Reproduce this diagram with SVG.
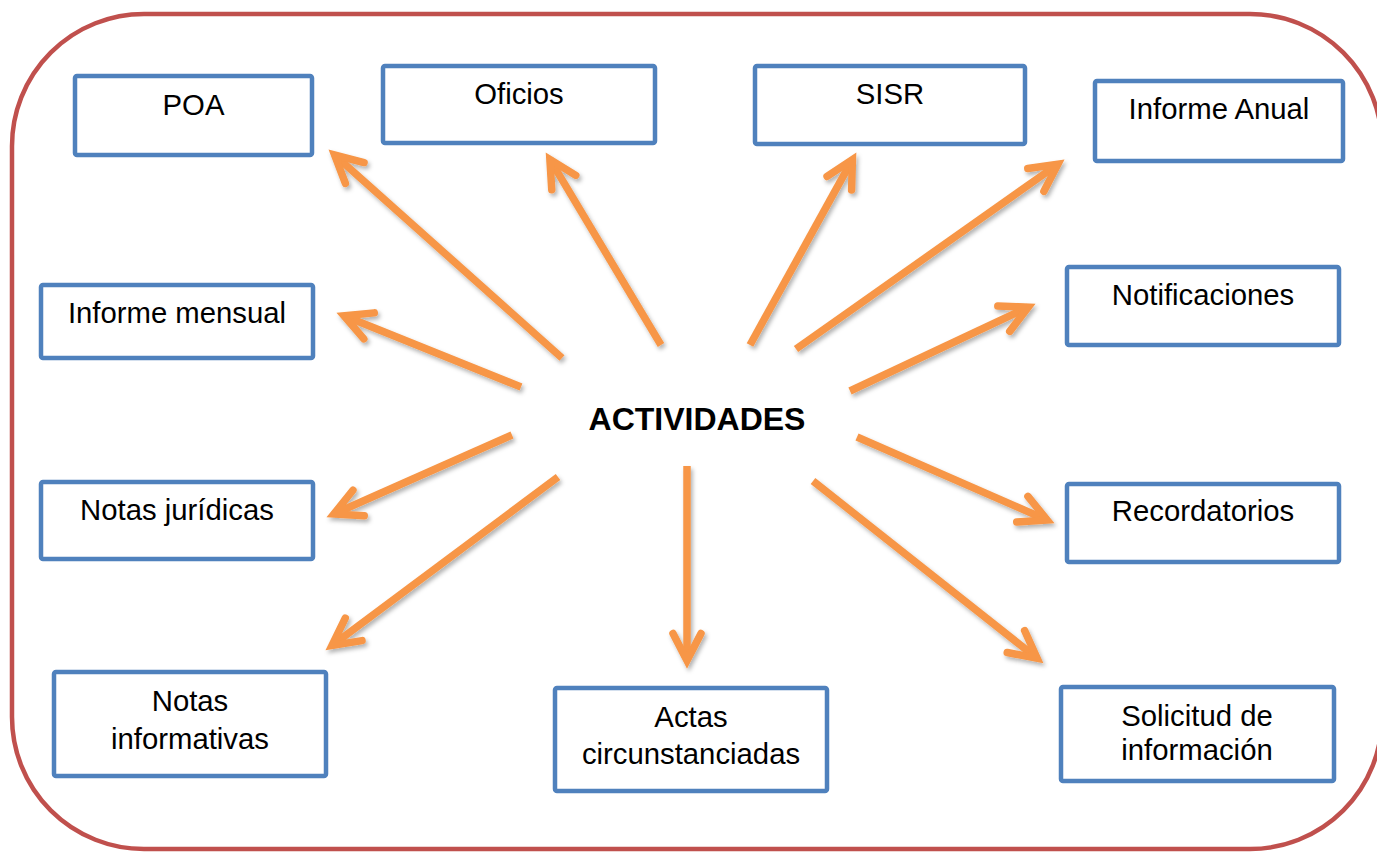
<svg xmlns="http://www.w3.org/2000/svg" width="1377" height="852" viewBox="0 0 1377 852">
  <style>
    .frame { fill: #FFFFFF; stroke: #C0504D; stroke-width: 4.5; }
    .box { fill: #FFFFFF; stroke: #4F81BD; stroke-width: 4.5; }
    .lbl { font-family: "Liberation Sans", Arial, sans-serif; font-size: 29.3px; fill: #000000; text-anchor: middle; }
    .title { font-family: "Liberation Sans", Arial, sans-serif; font-size: 32px; font-weight: bold; fill: #000000; text-anchor: middle; }
    .arrow { fill: none; stroke: #F79646; stroke-width: 7.5; stroke-linecap: butt; marker-end: url(#head); }
  </style>
  <defs>
    <filter id="shadow" x="-10%" y="-10%" width="120%" height="120%">
      <feDropShadow dx="2" dy="3" stdDeviation="2" flood-color="#000000" flood-opacity="0.3"/>
    </filter>
    <marker id="head" markerUnits="userSpaceOnUse" viewBox="-40 -25 50 50" refX="0" refY="0" markerWidth="50" markerHeight="50" orient="auto" overflow="visible">
      <path d="M -27 -14 L 0 0 L -27 14" fill="none" stroke="#F79646" stroke-width="7.5" stroke-linecap="round" stroke-linejoin="miter" stroke-miterlimit="10"/>
    </marker>
  </defs>

  <rect width="1377" height="852" fill="#FFFFFF"/>

  <!-- outer rounded frame -->
  <rect class="frame" x="12" y="14" width="1370" height="835" rx="132" ry="132"/>

  <!-- central topic -->
  <g id="actividades">
    <text class="title" x="697" y="430">ACTIVIDADES</text>
  </g>

  <!-- connectors from the centre to each activity -->
  <g id="connectors" filter="url(#shadow)">
    <line class="arrow" x1="562" y1="358" x2="334.6" y2="155"/>
    <line class="arrow" x1="661" y1="345" x2="549.9" y2="159.4"/>
    <line class="arrow" x1="521" y1="387" x2="344" y2="315.8"/>
    <line class="arrow" x1="750" y1="345" x2="852.4" y2="159.6"/>
    <line class="arrow" x1="796" y1="349" x2="1057.9" y2="164.3"/>
    <line class="arrow" x1="850" y1="391" x2="1028.2" y2="307.2"/>
    <line class="arrow" x1="857" y1="437" x2="1047.1" y2="520"/>
    <line class="arrow" x1="512" y1="435" x2="333.9" y2="514"/>
    <line class="arrow" x1="558" y1="477" x2="332" y2="645.5"/>
    <line class="arrow" x1="687" y1="466" x2="687" y2="660.5"/>
    <line class="arrow" x1="813" y1="481" x2="1037.1" y2="658.3"/>
  </g>

  <g id="poa">
    <rect class="box" x="75" y="76" width="237" height="79" rx="2"/>
    <text class="lbl" x="193.5" y="115">POA</text>
  </g>
  <g id="oficios">
    <rect class="box" x="383" y="66" width="272" height="77" rx="2"/>
    <text class="lbl" x="519" y="104">Oficios</text>
  </g>
  <g id="sisr">
    <rect class="box" x="755" y="66" width="270" height="78" rx="2"/>
    <text class="lbl" x="890" y="104">SISR</text>
  </g>
  <g id="informe-anual">
    <rect class="box" x="1095" y="81" width="248" height="80" rx="2"/>
    <text class="lbl" x="1219" y="119">Informe Anual</text>
  </g>
  <g id="informe-mensual">
    <rect class="box" x="41" y="285" width="272" height="73" rx="2"/>
    <text class="lbl" x="177" y="323">Informe mensual</text>
  </g>
  <g id="notificaciones">
    <rect class="box" x="1067" y="267" width="272" height="78" rx="2"/>
    <text class="lbl" x="1203" y="305">Notificaciones</text>
  </g>
  <g id="notas-juridicas">
    <rect class="box" x="41" y="482" width="272" height="77" rx="2"/>
    <text class="lbl" x="177" y="520">Notas jurídicas</text>
  </g>
  <g id="recordatorios">
    <rect class="box" x="1067" y="484" width="272" height="78" rx="2"/>
    <text class="lbl" x="1203" y="521">Recordatorios</text>
  </g>
  <g id="notas-informativas">
    <rect class="box" x="54" y="672" width="272" height="104" rx="2"/>
    <text class="lbl" x="190" y="711">Notas</text>
    <text class="lbl" x="190" y="749">informativas</text>
  </g>
  <g id="actas">
    <rect class="box" x="555" y="688" width="272" height="103" rx="2"/>
    <text class="lbl" x="691" y="727">Actas</text>
    <text class="lbl" x="691" y="764">circunstanciadas</text>
  </g>
  <g id="solicitud">
    <rect class="box" x="1061" y="687" width="273" height="94" rx="2"/>
    <text class="lbl" x="1197" y="726">Solicitud de</text>
    <text class="lbl" x="1197" y="760">información</text>
  </g>
</svg>
